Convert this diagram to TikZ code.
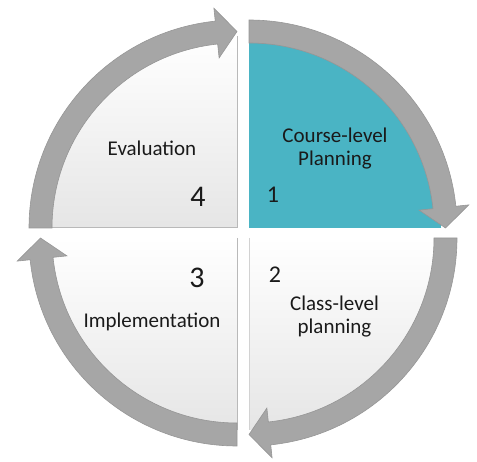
\documentclass[tikz,border=0pt]{standalone}
\usepackage{fontspec}
\setmainfont{Carlito}
\definecolor{tealq}{HTML}{4AB4C4}
\definecolor{bandc}{HTML}{A6A6A6}
\definecolor{bandedge}{HTML}{969696}
\definecolor{txt}{HTML}{1A1A1A}
\tikzset{
  bandarrow/.style={fill=bandc, draw=bandedge, line width=0.6pt, line join=miter},
  lightquad/.style={top color=white, bottom color=gray!20},
  quadedge/.style={draw=gray!55, line width=1pt},
  qtext/.style={text=txt, font=\fontsize{21}{23}\selectfont, align=center, inner sep=0pt},
  bignum/.style={text=txt, font=\fontsize{30}{30}\selectfont, inner sep=0pt},
  smallnum/.style={text=txt, font=\fontsize{24}{24}\selectfont, inner sep=0pt}
}
\newcommand{\quadband}[1]{%
  \path[bandarrow] (#1:208pt) arc[start angle=#1, end angle=#1-84, radius=208pt]
    -- (#1-84:221pt) -- (#1-90:196.5pt) -- (#1-84:171pt) -- (#1-84:185pt)
    arc[start angle=#1-84, end angle=#1, radius=185pt] -- cycle;}
\newcommand{\quadfill}[2]{%
  \path[#2] (0,0) -- (#1:192pt) arc[start angle=#1, end angle=#1-90, radius=192pt] -- cycle;}
\begin{document}
\begin{tikzpicture}[x=1pt,y=1pt]
\useasboundingbox (0,0) rectangle (477,461);
% Quadrant 1 (top right)
\begin{scope}[shift={(249,233)}]
  \quadfill{90}{fill=tealq}
\end{scope}
% Quadrant 2 (bottom right)
\begin{scope}[shift={(249,223)}]
  \quadfill{0}{lightquad}
  \draw[quadedge, draw=gray!35] (0,0) -- (0,-192);
\end{scope}
% Quadrant 3 (bottom left)
\begin{scope}[shift={(237,223)}]
  \quadfill{-90}{lightquad}
  \draw[quadedge] (0,0) -- (0,-192);
\end{scope}
% Quadrant 4 (top left)
\begin{scope}[shift={(237,233)}]
  \quadfill{180}{lightquad}
  \draw[quadedge] (0,192) -- (0,0) -- (-192,0);
\end{scope}
% Bands with arrow heads
\begin{scope}[shift={(249,233)}]\quadband{90}\end{scope}
\begin{scope}[shift={(249,223)}]\quadband{0}\end{scope}
\begin{scope}[shift={(237,223)}]\quadband{-90}\end{scope}
\begin{scope}[shift={(237,233)}]\quadband{180}\end{scope}
% Texts
\node[qtext] (course) at (335,312.5) {Course-level\\Planning};
\node[qtext] (class) at (334.5,144.5) {Class-level\\planning};
\node[qtext] (impl) at (152,139) {Implementation};
\node[qtext] (eval) at (152,313) {Evaluation};
\node[smallnum] (n1) at (273,266) {1};
\node[smallnum] (n2) at (275,186) {2};
\node[bignum] (n3) at (197,183) {3};
\node[bignum] (n4) at (198,264) {4};
\end{tikzpicture}
\end{document}
